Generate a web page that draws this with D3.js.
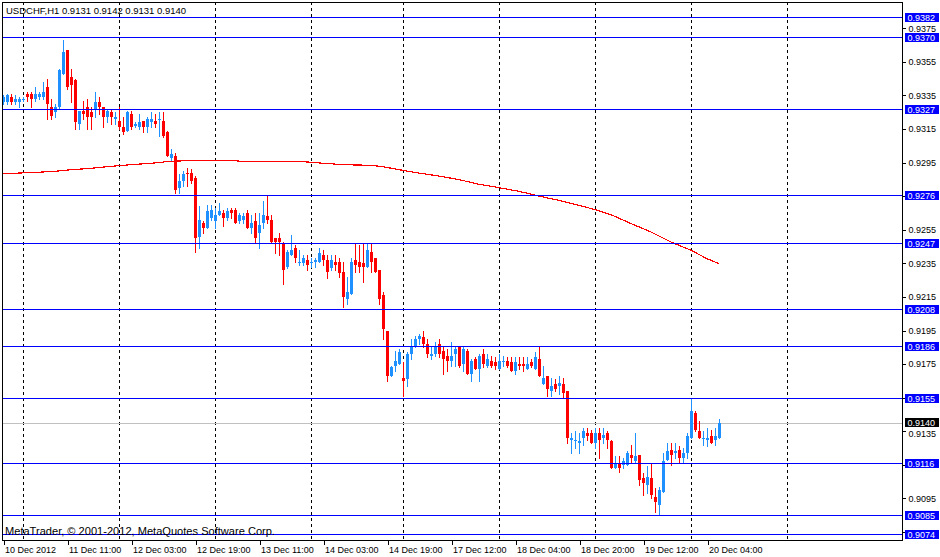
<!DOCTYPE html>
<html><head><meta charset="utf-8">
<script src="https://cdn.jsdelivr.net/npm/d3@7"></script>
<style>
body{margin:0;background:#fff}
svg{display:block}
text{font-family:"Liberation Sans",Arial,sans-serif}
</style>
</head><body>
<svg id="c" width="940" height="557"></svg>
<script>
// ---------- data ----------
const title = "USDCHF,H1";
const lastBar = [0.9131, 0.9142, 0.9131, 0.9140];
const open = [
0.9331,0.9331,0.9334,0.9331,0.9331,0.9333,0.9336,0.9336,0.9333,0.9334,0.9334,0.9340,0.9328,0.9325,0.9328,0.9348,0.9362,0.9346,0.9344,0.9318,
0.9326,0.9328,0.9325,0.9327,0.9331,0.9328,0.9322,0.9325,0.9321,0.9320,0.9316,0.9314,0.9324,0.9317,0.9316,0.9320,0.9316,0.9319,0.9320,0.9321,
0.9320,0.9313,0.9298,0.9299,0.9280,0.9284,0.9289,0.9289,0.9286,0.9251,0.9259,0.9256,0.9262,0.9260,0.9264,0.9265,0.9262,0.9267,0.9267,0.9260,
0.9261,0.9265,0.9256,0.9260,0.9253,0.9259,0.9263,0.9261,0.9250,0.9250,0.9247,0.9233,0.9240,0.9244,0.9236,0.9235,0.9237,0.9236,0.9236,0.9236,
0.9240,0.9237,0.9232,0.9236,0.9236,0.9230,0.9214,0.9217,0.9237,0.9236,0.9235,0.9233,0.9242,0.9238,0.9231,0.9216,0.9195,0.9168,0.9174,0.9175,
0.9167,0.9166,0.9181,0.9186,0.9190,0.9191,0.9187,0.9180,0.9181,0.9187,0.9183,0.9180,0.9177,0.9181,0.9185,0.9175,0.9183,0.9169,0.9178,0.9172,
0.9181,0.9174,0.9177,0.9176,0.9172,0.9177,0.9177,0.9176,0.9171,0.9175,0.9175,0.9172,0.9176,0.9172,0.9178,0.9163,0.9168,0.9159,0.9163,0.9162,
0.9163,0.9159,0.9130,0.9130,0.9128,0.9131,0.9134,0.9134,0.9128,0.9134,0.9131,0.9134,0.9129,0.9113,0.9116,0.9115,0.9115,0.9121,0.9117,0.9121,
0.9107,0.9103,0.9107,0.9096,0.9091,0.9099,0.9118,0.9124,0.9122,0.9124,0.9119,0.9122,0.9131,0.9146,0.9135,0.9131,0.9130,0.9132,0.9130,0.9131];
const high = [
0.9335,0.9336,0.9336,0.9335,0.9334,0.9334,0.9337,0.9337,0.9340,0.9337,0.9343,0.9345,0.9333,0.9330,0.9351,0.9368,0.9362,0.9351,0.9345,0.9326,
0.9332,0.9333,0.9328,0.9337,0.9334,0.9328,0.9327,0.9327,0.9325,0.9328,0.9322,0.9326,0.9326,0.9319,0.9324,0.9320,0.9322,0.9325,0.9324,0.9325,
0.9325,0.9314,0.9303,0.9301,0.9288,0.9290,0.9292,0.9291,0.9287,0.9269,0.9260,0.9270,0.9270,0.9268,0.9271,0.9267,0.9268,0.9268,0.9268,0.9265,
0.9265,0.9267,0.9264,0.9265,0.9265,0.9272,0.9275,0.9264,0.9250,0.9253,0.9248,0.9243,0.9252,0.9246,0.9243,0.9240,0.9240,0.9238,0.9238,0.9244,
0.9243,0.9240,0.9240,0.9240,0.9238,0.9236,0.9227,0.9238,0.9247,0.9246,0.9247,0.9247,0.9247,0.9238,0.9231,0.9218,0.9195,0.9174,0.9183,0.9184,
0.9176,0.9182,0.9190,0.9192,0.9193,0.9195,0.9190,0.9185,0.9188,0.9190,0.9185,0.9184,0.9188,0.9186,0.9186,0.9186,0.9184,0.9178,0.9179,0.9181,
0.9184,0.9181,0.9180,0.9179,0.9181,0.9180,0.9179,0.9179,0.9179,0.9179,0.9179,0.9179,0.9178,0.9182,0.9186,0.9174,0.9168,0.9167,0.9166,0.9168,
0.9167,0.9159,0.9134,0.9135,0.9134,0.9137,0.9137,0.9136,0.9137,0.9137,0.9137,0.9135,0.9130,0.9120,0.9120,0.9119,0.9123,0.9127,0.9134,0.9121,
0.9110,0.9114,0.9116,0.9101,0.9102,0.9122,0.9128,0.9128,0.9128,0.9126,0.9125,0.9134,0.9155,0.9147,0.9141,0.9135,0.9137,0.9136,0.9137,0.9142];
const low = [
0.9330,0.9330,0.9330,0.9330,0.9328,0.9332,0.9332,0.9328,0.9332,0.9333,0.9333,0.9321,0.9321,0.9322,0.9327,0.9348,0.9339,0.9331,0.9315,0.9315,
0.9321,0.9315,0.9315,0.9322,0.9324,0.9316,0.9319,0.9318,0.9318,0.9315,0.9312,0.9314,0.9315,0.9316,0.9315,0.9313,0.9313,0.9316,0.9316,0.9311,
0.9310,0.9299,0.9296,0.9277,0.9277,0.9281,0.9281,0.9283,0.9242,0.9244,0.9253,0.9256,0.9261,0.9256,0.9264,0.9257,0.9261,0.9262,0.9259,0.9259,
0.9259,0.9256,0.9253,0.9247,0.9244,0.9256,0.9259,0.9247,0.9241,0.9240,0.9223,0.9232,0.9240,0.9236,0.9234,0.9234,0.9231,0.9233,0.9233,0.9236,
0.9234,0.9226,0.9231,0.9231,0.9227,0.9209,0.9211,0.9217,0.9230,0.9230,0.9224,0.9233,0.9230,0.9230,0.9211,0.9190,0.9165,0.9168,0.9171,0.9175,
0.9156,0.9162,0.9178,0.9185,0.9187,0.9185,0.9179,0.9178,0.9180,0.9179,0.9169,0.9171,0.9174,0.9174,0.9173,0.9171,0.9169,0.9165,0.9172,0.9165,
0.9173,0.9173,0.9173,0.9172,0.9172,0.9174,0.9173,0.9171,0.9169,0.9172,0.9171,0.9172,0.9173,0.9172,0.9168,0.9163,0.9156,0.9156,0.9159,0.9157,
0.9155,0.9128,0.9122,0.9125,0.9122,0.9127,0.9130,0.9128,0.9125,0.9119,0.9128,0.9125,0.9113,0.9113,0.9111,0.9113,0.9115,0.9116,0.9116,0.9103,
0.9097,0.9098,0.9095,0.9087,0.9085,0.9099,0.9118,0.9115,0.9119,0.9116,0.9116,0.9119,0.9131,0.9135,0.9131,0.9127,0.9126,0.9128,0.9127,0.9131];
const close = [
0.9334,0.9335,0.9331,0.9333,0.9333,0.9333,0.9334,0.9333,0.9336,0.9336,0.9337,0.9330,0.9323,0.9328,0.9350,0.9361,0.9340,0.9341,0.9319,0.9326,
0.9324,0.9322,0.9322,0.9331,0.9328,0.9322,0.9326,0.9322,0.9322,0.9316,0.9313,0.9325,0.9316,0.9318,0.9319,0.9316,0.9321,0.9321,0.9318,0.9321,
0.9311,0.9299,0.9300,0.9279,0.9284,0.9288,0.9288,0.9284,0.9250,0.9261,0.9256,0.9266,0.9267,0.9264,0.9266,0.9262,0.9266,0.9265,0.9259,0.9264,
0.9263,0.9256,0.9259,0.9250,0.9258,0.9264,0.9261,0.9248,0.9248,0.9248,0.9231,0.9242,0.9243,0.9238,0.9236,0.9238,0.9234,0.9236,0.9237,0.9241,
0.9237,0.9230,0.9237,0.9234,0.9229,0.9215,0.9218,0.9236,0.9234,0.9233,0.9233,0.9243,0.9236,0.9230,0.9214,0.9196,0.9168,0.9173,0.9177,0.9182,
0.9165,0.9181,0.9186,0.9190,0.9192,0.9187,0.9181,0.9181,0.9186,0.9181,0.9178,0.9177,0.9180,0.9184,0.9174,0.9184,0.9169,0.9177,0.9172,0.9180,
0.9175,0.9178,0.9174,0.9174,0.9177,0.9177,0.9174,0.9171,0.9176,0.9174,0.9174,0.9175,0.9174,0.9179,0.9168,0.9167,0.9160,0.9162,0.9160,0.9164,
0.9158,0.9131,0.9131,0.9130,0.9129,0.9135,0.9132,0.9128,0.9134,0.9130,0.9133,0.9130,0.9113,0.9116,0.9113,0.9117,0.9122,0.9119,0.9120,0.9106,
0.9104,0.9108,0.9097,0.9093,0.9100,0.9117,0.9123,0.9121,0.9123,0.9119,0.9122,0.9132,0.9147,0.9136,0.9131,0.9131,0.9131,0.9128,0.9132,0.9140];

// moving average readings (bar index, value)
const maBar   = [0,8,13,17,22,27,32,37,41,46,58,60,75,78,85,92,95,99,104,109,114,119,124,129,134,139,144,148,152,157,162,167,172,176,179];
const maValue = [0.92884,0.92892,0.92898,0.92908,0.92916,0.92928,0.92938,0.92946,0.92956,0.92962,0.92962,0.92956,0.92956,0.92950,0.92938,0.92934,0.92926,0.92908,0.92888,0.92870,
0.92849,0.92821,0.92801,0.92779,0.92751,0.92725,0.92696,0.92670,0.92640,0.92587,0.92537,0.92477,0.92428,0.92378,0.92348];

const levels = [0.9382,0.9370,0.9327,0.9276,0.9247,0.9208,0.9186,0.9155,0.9116,0.9085,0.9074];
const bid = 0.9140;
const yTicks = [0.9375,0.9355,0.9335,0.9315,0.9295,0.9275,0.9255,0.9235,0.9215,0.9195,0.9175,0.9155,0.9135,0.9115,0.9095,0.9075];
const xTickBars = [0,16,32,48,64,80,96,112,128,144,160,176];
const xTickLabels = ["10 Dec 2012","11 Dec 11:00","12 Dec 03:00","12 Dec 19:00","13 Dec 11:00","14 Dec 03:00","14 Dec 19:00","17 Dec 12:00","18 Dec 04:00","18 Dec 20:00","19 Dec 12:00","20 Dec 04:00"];
const daySeparators = [5,29,53,77,100,124,148,172,196];
const copyright = "MetaTrader, \u00A9 2001-2012, MetaQuotes Software Corp.";

// ---------- drawing ----------
const svg = d3.select("#c");
const L = 2, R = 902, T = 2, B = 540;
const x = d3.scaleLinear().domain([0, 224]).range([3, 899]);
const y = d3.scaleLinear().domain([0.90702, 0.93907]).range([540, 2]);
const px = v => Math.round(x(v));
const py = v => Math.round(y(v));
const BULL = "#1E90FF", BEAR = "#FF0000", LEVEL = "#0000FF";

svg.append("rect").attr("width",940).attr("height",557).attr("fill","#fff");

const plot = svg.append("g").attr("shape-rendering","crispEdges");
// day separators
plot.selectAll("line.sep").data(daySeparators).join("line").attr("class","sep")
  .attr("x1", d => px(d)+0.5).attr("x2", d => px(d)+0.5)
  .attr("y1", T).attr("y2", B)
  .attr("stroke","#000").attr("stroke-dasharray","3,3");

// bid line
plot.append("rect").attr("x",L).attr("width",R-L).attr("y",py(bid)).attr("height",1).attr("fill","#C0C0C0");

// copyright
svg.append("text").attr("x",5).attr("y",535).attr("font-size","10px").attr("fill","#000")
  .attr("textLength",270).attr("lengthAdjust","spacingAndGlyphs").text(copyright);

// candles
const bars = d3.range(open.length).map(i => ({i, o:open[i], h:high[i], l:low[i], c:close[i]}));
const cg = plot.append("g");
cg.selectAll("rect.wick").data(bars).join("rect").attr("class","wick")
  .attr("x", d => px(d.i)).attr("width",1)
  .attr("y", d => py(d.h)).attr("height", d => py(d.l) - py(d.h) + 1)
  .attr("fill", d => d.c >= d.o ? BULL : BEAR);
cg.selectAll("rect.body").data(bars).join("rect").attr("class","body")
  .attr("x", d => px(d.i)-1).attr("width",3)
  .attr("y", d => py(Math.max(d.o,d.c)))
  .attr("height", d => Math.max(1, py(Math.min(d.o,d.c)) - py(Math.max(d.o,d.c))))
  .attr("fill", d => d.c >= d.o ? BULL : BEAR);

// moving average
const ma = maBar.map((b,k) => [b, maValue[k]]);
plot.append("path").datum(ma)
  .attr("d", d3.line().x(d => x(d[0])).y(d => y(d[1])))
  .attr("fill","none").attr("stroke","#FF0000").attr("stroke-width",1.2);

// horizontal levels
plot.selectAll("rect.lvl").data(levels).join("rect").attr("class","lvl")
  .attr("x",L).attr("width",R-L).attr("y", d => py(d)).attr("height",1)
  .attr("fill",LEVEL);

// frame
svg.append("rect").attr("x",L+0.5).attr("y",T+0.5).attr("width",R-L).attr("height",B-T)
  .attr("fill","none").attr("stroke","#000").attr("shape-rendering","crispEdges");

// title
svg.append("text").attr("x",6).attr("y",13.5).attr("font-size","9.5px").attr("fill","#000")
  .text(title + "  " + lastBar.map(v => v.toFixed(4)).join(" "));

// right axis
const boxY = [...levels, bid];
const yAxis = d3.axisRight(y).tickValues(yTicks).tickSize(3).tickPadding(3).tickFormat(d3.format(".4f"));
const ya = svg.append("g").attr("transform",`translate(${R+0.5},0)`).call(yAxis);
ya.select(".domain").remove();
ya.selectAll(".tick line").attr("stroke","#000").attr("shape-rendering","crispEdges");
ya.selectAll(".tick text").attr("font-family","Liberation Sans, Arial, sans-serif")
  .attr("font-size","9px").attr("fill","#000")
  .attr("dy", d => Math.abs(y(d) - y(bid)) < 10 ? "0.55em" : "0.32em")
  .style("display", d => boxY.some(b => Math.abs(y(b)-y(d)) < 5) ? "none" : null);

// level labels
const lab = svg.append("g");
const allLabels = levels.map(v => ({v, fill:LEVEL, off:4})).concat([{v:bid, fill:"#000", off:5}]);
lab.selectAll("rect").data(allLabels).join("rect")
  .attr("x",905).attr("width",34).attr("y", d => py(d.v)-d.off).attr("height",9)
  .attr("fill", d => d.fill).attr("shape-rendering","crispEdges");
lab.selectAll("text").data(allLabels).join("text")
  .attr("x",907.5).attr("y", d => py(d.v)-d.off+8).attr("font-size","9px").attr("fill","#fff")
  .text(d => d.v.toFixed(4));

// bottom axis
const xAxis = d3.axisBottom(x).tickValues(xTickBars).tickSize(4).tickFormat((d,k) => xTickLabels[k]);
const xa = svg.append("g").attr("transform",`translate(0.5,${B+0.5})`).call(xAxis);
xa.select(".domain").remove();
xa.selectAll(".tick line").attr("stroke","#000").attr("shape-rendering","crispEdges");
xa.selectAll(".tick text").attr("text-anchor","start").attr("dx","1").attr("y",6)
  .attr("font-family","Liberation Sans, Arial, sans-serif").attr("font-size","9px").attr("fill","#000");
</script>
</body></html>
